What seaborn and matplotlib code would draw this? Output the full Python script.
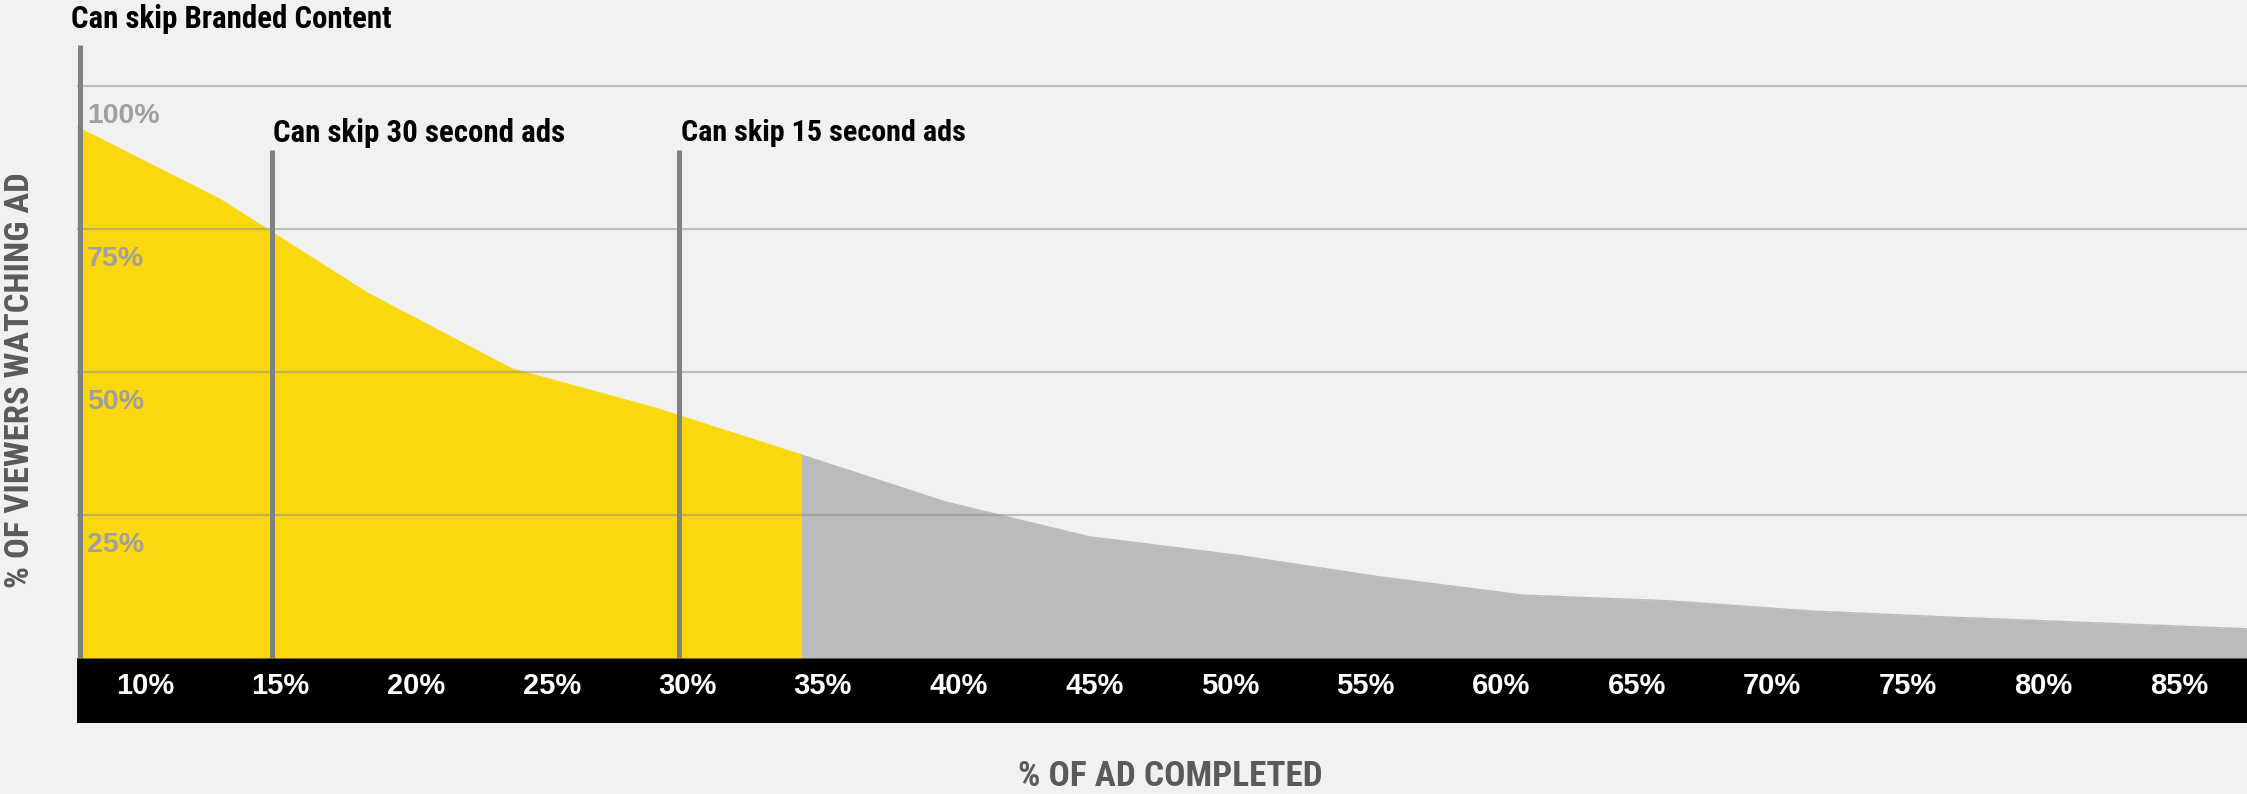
import matplotlib
matplotlib.use("Agg")
import matplotlib.pyplot as plt
from matplotlib import font_manager
from matplotlib.font_manager import FontProperties
from matplotlib.patches import Rectangle
from matplotlib.transforms import ScaledTranslation, blended_transform_factory
import seaborn as sns

# share of viewers still watching (16 evenly spaced points)
completed = [7.5, 12.8, 18.2, 23.5, 28.8, 34.2, 39.5, 44.8, 50.2, 55.5, 60.8, 66.2, 71.5, 76.8, 82.2, 87.5]
viewers = [92.8, 80.1, 63.8, 50.6, 43.7, 35.5, 27.3, 21.2, 18.0, 14.2, 11.0, 10.0, 8.2, 7.1, 6.1, 5.1]
split = 5  # last point of the yellow (skippable) part

x_ticks = [10, 15, 20, 25, 30, 35, 40, 45, 50, 55, 60, 65, 70, 75, 80, 85]
x_labels = ["10%", "15%", "20%", "25%", "30%", "35%", "40%", "45%", "50%",
            "55%", "60%", "65%", "70%", "75%", "80%", "85%"]
y_ticks = [25, 50, 75, 100]
y_labels = ["25%", "50%", "75%", "100%"]

skip_labels = ["Can skip Branded Content", "Can skip 30 second ads", "Can skip 15 second ads"]
skip_x = [7.6, 14.7, 29.7]
skip_top = [107.2, 88.8, 88.8]

BG = "#f1f1f1"
YELLOW = "#fad80e"
GREY = "#bbbbbb"

sns.set_theme(style="white", rc={"figure.facecolor": BG, "axes.facecolor": BG})
plt.rcParams["font.family"] = ["Liberation Sans", "DejaVu Sans"]


def condensed_bold():
    # first condensed bold face found, else plain bold
    for fam in ["Roboto Condensed", "Noto Sans", "Open Sans", "Liberation Sans Narrow", "DejaVu Sans"]:
        try:
            path = font_manager.findfont(FontProperties(family=fam, weight="bold", stretch="condensed"),
                                         fallback_to_default=False)
        except Exception:
            continue
        name = path.lower()
        if ("cond" in name or "narrow" in name) and "bold" in name:
            return FontProperties(fname=path)
    return FontProperties(family="Liberation Sans", weight="bold")


cond = condensed_bold()

fig = plt.figure(figsize=(22.47, 7.94), dpi=100)
ax = fig.add_axes([77 / 2247, 1 - 658 / 794, 1 - 77 / 2247, (658 - 28.8) / 794])

# area under the curve: yellow while skipping is possible, grey after
ax.fill_between(completed[:split + 1], viewers[:split + 1], color=YELLOW, lw=0, zorder=1)
ax.fill_between(completed[split:], viewers[split:], color=GREY, lw=0, zorder=1)
sns.lineplot(x=completed[:split + 1], y=viewers[:split + 1], color=YELLOW, lw=1, ax=ax, zorder=1.1)
sns.lineplot(x=completed[split:], y=viewers[split:], color=GREY, lw=1, ax=ax, zorder=1.1)

for v in y_ticks:
    ax.axhline(v, color="#8c8c8c", alpha=0.5, lw=1.6, zorder=2)

ax.vlines(skip_x, 0, skip_top, colors="#808080", lw=3.6, zorder=3)

# skip annotations, later sized to the widths seen in the reference
label_pos = [(7.28, 110.1), (14.73, 90.2), (29.77, 90.3)]
label_w = [320, 291, 285]
fitted = []
for text, (tx, ty), w in zip(skip_labels, label_pos, label_w):
    t = ax.text(tx, ty, text, ha="left", va="baseline", fontproperties=cond,
                color="black", clip_on=False)
    t.set_fontsize(22)
    fitted.append((t, w))

# y labels sit just below their gridlines, inside the plot
trans = blended_transform_factory(ax.transAxes, ax.transData) + \
    ScaledTranslation(0, -30 / 100, fig.dpi_scale_trans)
for v, lab in zip(y_ticks, y_labels):
    ax.text(10 / 2170, v, lab, transform=trans, ha="left", va="center",
            fontsize=20.5, fontweight="bold", color="#a0a0a0")

ax.set_xlim(7.5, 87.5)
ax.set_ylim(0, 110)
ax.set_yticks([])
ax.set_xticks(x_ticks, x_labels)
ax.tick_params(axis="x", length=0, pad=10, colors="white", labelsize=21)
for lab in ax.get_xticklabels():
    lab.set_fontweight("bold")
for s in ax.spines.values():
    s.set_visible(False)

# black band behind the x tick labels
band = 65 / 629.2
ax.add_patch(Rectangle((0, -band), 1, band, transform=ax.transAxes,
                       facecolor="black", lw=0, clip_on=False, zorder=0))

ax.set_xlabel("% OF AD COMPLETED", fontproperties=cond, color="#5a5a5a", va="center")
ax.xaxis.label.set_fontsize(24)
ax.xaxis.set_label_coords((1170 - 77) / 2170, (658 - 776) / 629.2)
ax.set_ylabel("% OF VIEWERS WATCHING AD", fontproperties=cond, color="#5a5a5a", va="center")
ax.yaxis.label.set_fontsize(24)
ax.yaxis.set_label_coords((20 - 77) / 2170, (658 - 380) / 629.2)
fitted += [(ax.xaxis.label, 305), (ax.yaxis.label, 415)]

# scale each condensed text so its length matches the reference
renderer = fig.canvas.get_renderer()
for t, w in fitted:
    bb = t.get_window_extent(renderer)
    t.set_fontsize(t.get_fontsize() * w / max(bb.width, bb.height))

fig.savefig("out.png", dpi=100, facecolor=BG)
